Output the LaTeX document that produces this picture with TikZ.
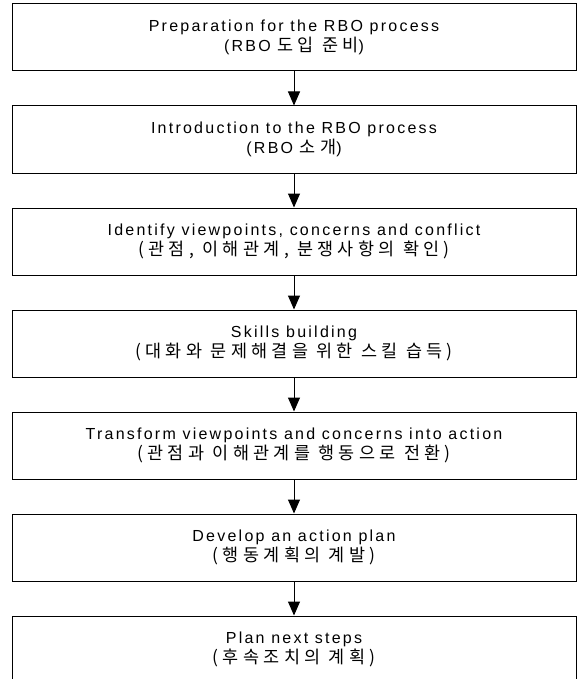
\documentclass[tikz,border=0pt]{standalone}
\usepackage{fontspec}
\setmainfont{Liberation Sans}[LetterSpace=14]
\newfontfamily\kr{Noto Sans CJK KR}[Scale=1.09, LetterSpace=25]
\usetikzlibrary{positioning, arrows.meta}

\begin{document}
\begin{tikzpicture}[x=1pt, y=1pt,
        stage/.style={draw, line width=1pt, minimum width=564pt, minimum height=67pt,
            inner sep=0pt, align=center, font=\fontsize{16}{20.5}\selectfont},
        flow/.style={line width=1pt, -{Triangle[length=14pt, width=12pt]}}]
        % Page frame
        \useasboundingbox (0,0) rectangle (577,-679);

        % The seven stages
        \node[stage] (prep) at (294,-37.5) {Preparation for the RBO process\\(RBO {\kr 도입 준비})};
        \node[stage, below=34pt of prep] (intro) {Introduction to the RBO process\\(RBO {\kr 소개})};
        \node[stage, below=34pt of intro] (ident) {Identify viewpoints, concerns and conflict\\{\kr (관점, 이해관계, 분쟁사항의 확인)}};
        \node[stage, below=34pt of ident] (skills) {Skills building\\{\kr (대화와 문제해결을 위한 스킬 습득)}};
        \node[stage, below=34pt of skills] (transform) {Transform viewpoints and concerns into action\\{\kr (관점과 이해관계를 행동으로 전환)}};
        \node[stage, below=34pt of transform] (develop) {Develop an action plan\\{\kr (행동계획의 계발)}};
        \node[stage, below=34pt of develop] (plan) {Plan next steps\\{\kr (후속조치의 계획)}};

        % Arrows between the stages
        \draw[flow] (prep) -- (intro);
        \draw[flow] (intro) -- (ident);
        \draw[flow] (ident) -- (skills);
        \draw[flow] (skills) -- (transform);
        \draw[flow] (transform) -- (develop);
        \draw[flow] (develop) -- (plan);
    \end{tikzpicture}
\end{document}
